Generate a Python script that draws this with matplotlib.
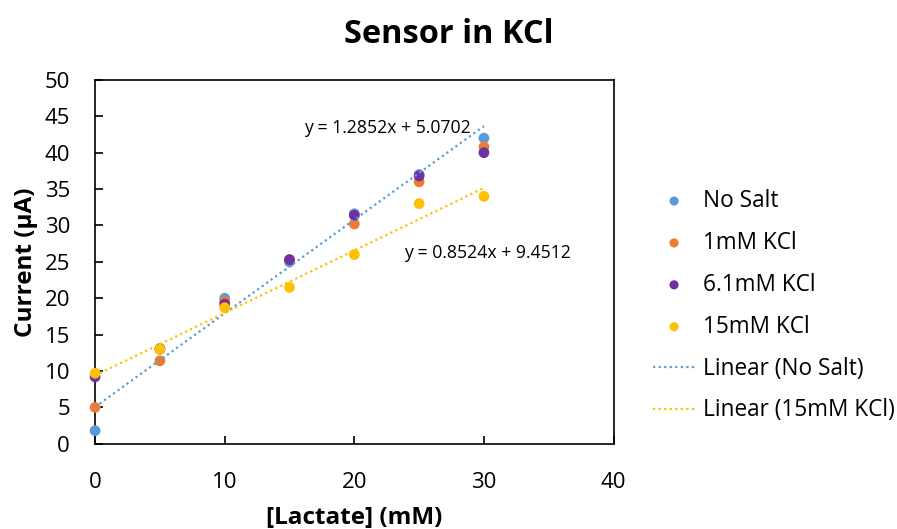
import matplotlib
matplotlib.use("Agg")
import matplotlib.pyplot as plt
import numpy as np

plt.rcParams['font.family'] = ['Open Sans', 'DejaVu Sans']

lactate = [0, 5, 10, 15, 20, 25, 30]
no_salt = [1.8, 13.1, 20.0, 25.0, 31.6, 37.0, 42.0]
kcl_1 = [5.0, 11.4, 19.6, 25.3, 30.2, 36.0, 40.8]
kcl_6_1 = [9.2, 13.0, 19.2, 25.3, 31.4, 36.8, 40.0]
kcl_15 = [9.7, 13.0, 18.7, 21.5, 26.0, 33.0, 34.0]

series_names = ["No Salt", "1mM KCl", "6.1mM KCl", "15mM KCl"]
colors = ["#5B9BD5", "#ED7D31", "#7030A0", "#FFC000"]
eq_no_salt = "y = 1.2852x + 5.0702"
eq_15 = "y = 0.8524x + 9.4512"

fig = plt.figure(figsize=(8.97, 5.29), dpi=100)
ax = fig.add_axes([0.106, 0.161, 0.578, 0.688])

for vals, name, c in zip([no_salt, kcl_1, kcl_6_1, kcl_15], series_names, colors):
    ax.scatter(lactate, vals, s=60, color=c, label=name, zorder=3, edgecolors='none', clip_on=False)

x = np.array(lactate)
for vals, c, name in [(no_salt, colors[0], "Linear (No Salt)"), (kcl_15, colors[3], "Linear (15mM KCl)")]:
    m, b = np.polyfit(x, vals, 1)
    xx = np.array([0, 30])
    ax.plot(xx, m * xx + b, linestyle=(0, (1, 1.5)), color=c, lw=1.6, label=name, zorder=4)

ax.text(16.1, 43.4, eq_no_salt, fontsize=12.7, va='center', ha='left')
ax.text(23.8, 26.2, eq_15, fontsize=12.7, va='center', ha='left')

ax.set_xlim(0, 40)
ax.set_ylim(0, 50)
ax.set_xticks([0, 10, 20, 30, 40])
ax.set_yticks(range(0, 51, 5))
ax.tick_params(direction='in', labelsize=16, length=6, width=1.2)
ax.tick_params(axis='x', pad=20)
ax.tick_params(axis='y', pad=18)
for sp in ax.spines.values():
    sp.set_linewidth(1.2)
    sp.set_color('black')

ax.set_xlabel("[Lactate] (mM)", fontsize=17.5, fontweight='bold', labelpad=10)
ax.set_ylabel("Current (µA)", fontsize=17.5, fontweight='bold', labelpad=5)
fig.text(0.5, 1 - 43 / 529, "Sensor in KCl", fontsize=23.4, fontweight='bold',
         ha='center', va='baseline')

leg = ax.legend(loc='upper left', bbox_to_anchor=(653 / 897, 1 - 189 / 529), bbox_transform=fig.transFigure,
                frameon=False, fontsize=16.3, handlelength=1.86, labelspacing=0.79,
                handletextpad=0.37, markerscale=0.85, borderpad=0, borderaxespad=0)

fig.savefig("out.png", dpi=100)
